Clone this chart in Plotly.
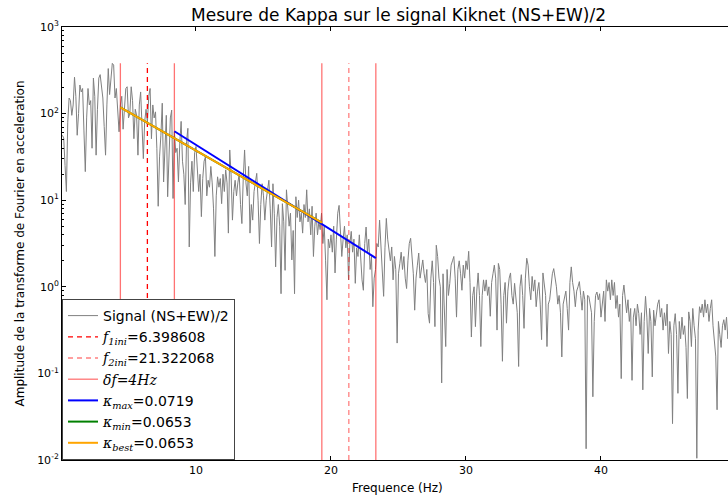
import numpy as np
import plotly.graph_objects as go

# Spectrum of the averaged horizontal component, sampled every 0.1 Hz (log10 of amplitude)
freq_step = 0.1
signal_log10 = [
    1.75, 1.72, 1.40, 1.10, 1.90, 2.18, 2.15, 1.98, 2.10, 2.42,
    2.20, 1.75, 2.00, 2.33, 2.25, 2.29, 1.80, 1.33, 1.95, 2.29,
    2.10, 2.15, 1.60, 2.41, 2.20, 1.52, 2.05, 2.41, 2.45, 2.30,
    2.18, 1.85, 1.52, 2.10, 2.52, 2.22, 2.45, 2.58, 2.56, 2.18,
    2.29, 2.05, 1.79, 2.10, 2.20, 1.82, 2.05, 2.29, 2.31, 1.95,
    2.00, 2.31, 2.15, 1.71, 2.05, 1.98, 1.52, 2.10, 2.25, 1.85,
    1.48, 1.91, 2.05, 1.90, 2.20, 2.29, 1.71, 2.10, 1.95, 2.02,
    1.60, 0.93, 1.50, 1.75, 2.12, 1.21, 1.55, 1.98, 1.04, 1.60,
    1.95, 2.04, 1.02, 1.79, 1.55, 1.60, 1.21, 1.66, 1.91, 1.45,
    1.30, 0.95, 1.68, 1.83, 0.46, 1.20, 1.45, 1.10, 1.55, 1.62,
    1.35, 1.10, 1.30, 0.81, 1.25, 1.45, 1.50, 1.05, 1.23, 1.15,
    1.39, 1.20, 0.90, 0.35, 1.05, 1.27, 1.15, 1.25, 0.96, 1.30,
    1.10, 1.35, 1.20, 0.62, 1.58, 1.30, 0.77, 1.10, 1.23, 1.05,
    1.20, 1.30, 0.95, 0.73, 1.25, 1.58, 1.20, 1.05, 1.39, 0.62,
    0.95, 0.77, 1.10, 1.20, 1.31, 1.00, 0.50, 0.95, 1.19, 1.05,
    0.77, 1.00, 1.15, 1.23, 0.90, 0.46, 1.19, 0.85, 0.23, 0.80,
    0.95, 0.70, -0.08, 0.96, 0.75, 0.19, 1.12, 0.90, 0.70, 0.85,
    0.31, 0.65, -0.08, 1.04, 0.80, 1.00, 0.75, 0.85, 0.62, 0.95,
    0.80, 1.12, 0.75, 0.90, 0.60, 0.93, 0.35, 0.70, 0.85, 0.60,
    0.75, 0.66, 0.85, 0.50, 0.70, 0.30, -0.15, 0.55, 0.45, 0.60,
    0.40, 0.70, 0.16, 0.55, 0.85, 0.94, 0.60, 0.35, 0.55, 0.70,
    0.45, 0.60, 0.08, 0.50, 0.64, 0.40, 0.55, 0.04, 0.45, 0.35,
    0.60, 0.30, 0.08, -0.04, 0.50, 0.69, 0.40, 0.55, 0.20, 0.35,
    -0.23, 0.10, 0.20, 0.50, 0.46, 0.77, 0.50, 0.30, -0.11, 0.45,
    0.79, 0.55, 0.40, 0.30, 0.46, 0.08, 0.35, 0.20, -0.65, 0.15,
    0.27, 0.40, 0.20, 0.35, 0.10, -0.02, 0.30, 0.50, 0.56, 0.30,
    0.15, -0.27, 0.10, 0.25, 0.39, 0.10, 0.20, 0.31, 0.15, 0.05,
    0.20, -0.31, -0.42, 0.10, 0.30, 0.05, -0.46, 0.48, 0.35, 0.10,
    0.00, -1.11, 0.15, -0.20, -0.69, 0.20, -0.10, 0.04, 0.25, 0.30,
    0.35, 0.10, -0.35, 0.20, 0.30, 0.15, -0.04, 0.25, 0.10, 0.30,
    0.20, 0.41, 0.05, -0.58, -0.10, 0.00, -0.46, -0.05, 0.16, -0.10,
    -0.69, -0.10, 0.08, -0.05, 0.08, -0.10, 0.00, -0.34, 0.05, 0.15,
    0.25, 0.10, -0.50, 0.27, 0.20, -0.20, -0.86, -0.10, 0.05, -0.42,
    -0.05, 0.10, 0.16, -0.10, -0.20, 0.04, -0.15, -0.30, -0.92, 0.00,
    0.14, -0.10, -0.48, 0.10, 0.33, 0.25, 0.00, -0.15, 0.12, -0.05,
    0.08, -0.23, -0.05, 0.05, -0.20, -0.61, 0.16, 0.05, -0.10, -0.69,
    -0.20, -0.15, 0.05, 0.15, 0.21, 0.10, 0.00, -0.20, -0.10, -0.30,
    -0.81, -0.20, -0.11, -0.05, -0.25, -0.50, 0.05, 0.23, 0.05, -0.05,
    -0.23, -0.05, 0.00, 0.06, -0.10, -0.27, -0.05, -0.15, -1.87, -0.10,
    -0.11, -0.20, -0.30, -1.27, -0.40, -0.10, -0.06, -0.15, -0.08, -0.35,
    -0.20, -0.05, -0.40, 0.08, -0.05, 0.05, -0.15, 0.08, -0.10, 0.05,
    -0.25, -0.10, -0.35, -0.20, -1.06, -0.10, 0.02, -0.20, -0.30, -0.15,
    -0.40, -0.25, -1.08, -0.35, -0.25, -0.45, -0.20, -0.31, -0.55, -0.30,
    -1.19, -0.40, -0.11, -0.35, -0.77, -0.25, -0.40, -1.04, -0.27, -0.45,
    -0.30, -0.20, -0.15, -0.35, -0.25, -0.50, -0.30, -0.45, -0.20, -0.77,
    -0.40, -0.55, -1.58, -0.45, -0.31, -0.55, -1.23, -0.40, -0.60, -0.35,
    -0.55, -0.45, -0.70, -1.29, -0.29, -0.40, -0.69, -0.25, -0.45, -0.60,
    -1.98, -0.50, -0.23, -0.30, -0.20, -0.35, -0.15, -0.30, -0.20, -0.40,
    -0.25, -0.15, -0.45, -0.60, -0.80, -1.42, -0.40, -0.55, -0.70, -0.45,
    -0.38, -0.50, -0.35, -0.60, -0.45, -0.30, -0.55, -0.40, -0.50, -0.45,
]

# Corner-frequency picks and kappa results
f1_ini = 6.398608
f2_ini = 21.322068
delta_f = 4.0
kappa_max = 0.0719
kappa_min = 0.0653
kappa_best = 0.0653
# Amplitude at f = 0 of each fitted exp(-pi*kappa*f) line
a0_max = 416.9
a0_min = 290.5
a0_best = 290.5

freq = np.round(freq_step * np.arange(1, len(signal_log10) + 1), 2)
amp = 10.0 ** np.array(signal_log10)
amp_top = amp.max()
y_bottom = 1e-2

SERIF = "DejaVu Serif"


def math(s):
    return f"<span style='font-family:{SERIF}'>{s}</span>"


def vline_xy(xs):
    x, y = [], []
    for v in xs:
        x += [v, v, None]
        y += [y_bottom, amp_top, None]
    return x, y


def kappa_line(a0, kappa, fa, fb):
    f = np.linspace(fa, fb, 60)
    return f, a0 * np.exp(-np.pi * kappa * f)


fig = go.Figure()

fig.add_trace(go.Scatter(x=freq, y=amp, mode="lines",
                         line=dict(color="#808080", width=1),
                         name="Signal (NS+EW)/2"))

x, y = vline_xy([f1_ini])
fig.add_trace(go.Scatter(x=x, y=y, mode="lines",
                         line=dict(color="#ff0000", width=1.3, dash="5px,4px"),
                         name=math("<i>f</i><sub><i>1ini</i></sub>") + "=%.6f" % f1_ini))
x, y = vline_xy([f2_ini])
fig.add_trace(go.Scatter(x=x, y=y, mode="lines",
                         line=dict(color="rgba(255,0,0,0.5)", width=1.3, dash="5px,4px"),
                         name=math("<i>f</i><sub><i>2ini</i></sub>") + "=%.6f" % f2_ini))
x, y = vline_xy([f1_ini - delta_f / 2, f1_ini + delta_f / 2,
                 f2_ini - delta_f / 2, f2_ini + delta_f / 2])
fig.add_trace(go.Scatter(x=x, y=y, mode="lines",
                         line=dict(color="rgba(255,0,0,0.55)", width=1.3),
                         name=math("<i>δf</i>") + "=" + math("<i>%dHz</i>" % delta_f)))

fx, fy = kappa_line(a0_max, kappa_max, f1_ini + delta_f / 2, f2_ini + delta_f / 2)
fig.add_trace(go.Scatter(x=fx, y=fy, mode="lines",
                         line=dict(color="#0000ff", width=2),
                         name=math("<i>κ</i><sub><i>max</i></sub>") + "=%.4f" % kappa_max))
fx, fy = kappa_line(a0_min, kappa_min, f1_ini - delta_f / 2, f2_ini - delta_f / 2)
fig.add_trace(go.Scatter(x=fx, y=fy, mode="lines",
                         line=dict(color="#008000", width=2),
                         name=math("<i>κ</i><sub><i>min</i></sub>") + "=%.4f" % kappa_min))
fx, fy = kappa_line(a0_best, kappa_best, f1_ini - delta_f / 2, f2_ini - delta_f / 2)
fig.add_trace(go.Scatter(x=fx, y=fy, mode="lines",
                         line=dict(color="#ffa500", width=2),
                         name=math("<i>κ</i><sub><i>best</i></sub>") + "=%.4f" % kappa_best))

ytick_vals = [1e-2, 1e-1, 1e0, 1e1, 1e2, 1e3]
ytick_text = ["10<sup>-2</sup>", "10<sup>-1</sup>", "10<sup>0</sup>",
              "10<sup>1</sup>", "10<sup>2</sup>", "10<sup>3</sup>"]
yminor = [m * 10.0 ** e for e in range(-2, 3) for m in range(2, 10)]

fig.update_layout(
    width=728, height=496,
    margin=dict(l=62, r=0, t=27, b=36),
    paper_bgcolor="white", plot_bgcolor="white",
    font=dict(family="DejaVu Sans", color="black", size=11),
    showlegend=True,
    legend=dict(x=0, y=0, xanchor="left", yanchor="bottom",
                bgcolor="white", bordercolor="#444", borderwidth=1,
                font=dict(size=14, family="DejaVu Sans"),
                itemwidth=30, tracegroupgap=0),
    xaxis=dict(range=[0.074, 49.41], showgrid=False, zeroline=False,
               tickvals=[10, 20, 30, 40], ticks="inside", ticklen=4,
               tickcolor="black", showline=True, linecolor="black",
               linewidth=1, mirror="ticks", tickfont=dict(size=11)),
    yaxis=dict(type="log", range=[-2, 3], showgrid=False, zeroline=False,
               tickvals=ytick_vals, ticktext=ytick_text, ticks="inside",
               ticklen=4, tickcolor="black", showline=True,
               linecolor="black", linewidth=1, tickfont=dict(size=11),
               minor=dict(tickmode="array", tickvals=yminor, ticks="inside",
                          ticklen=2, tickcolor="black")),
    annotations=[
        dict(text="Mesure de Kappa sur le signal Kiknet (NS+EW)/2",
             xref="paper", yref="paper", x=0.506, y=1.028,
             xanchor="center", yanchor="middle", showarrow=False,
             font=dict(size=17)),
        dict(text="Frequence (Hz)", xref="paper", yref="paper",
             x=0.5045, y=-0.0647, xanchor="center", yanchor="middle",
             showarrow=False, font=dict(size=12)),
        dict(text="Amplitude de la transforme de Fourier en acceleration",
             xref="paper", yref="paper", x=-0.0631, y=0.5,
             xanchor="center", yanchor="middle", textangle=-90,
             showarrow=False, font=dict(size=12)),
    ],
)

fig.write_html("out.html")
